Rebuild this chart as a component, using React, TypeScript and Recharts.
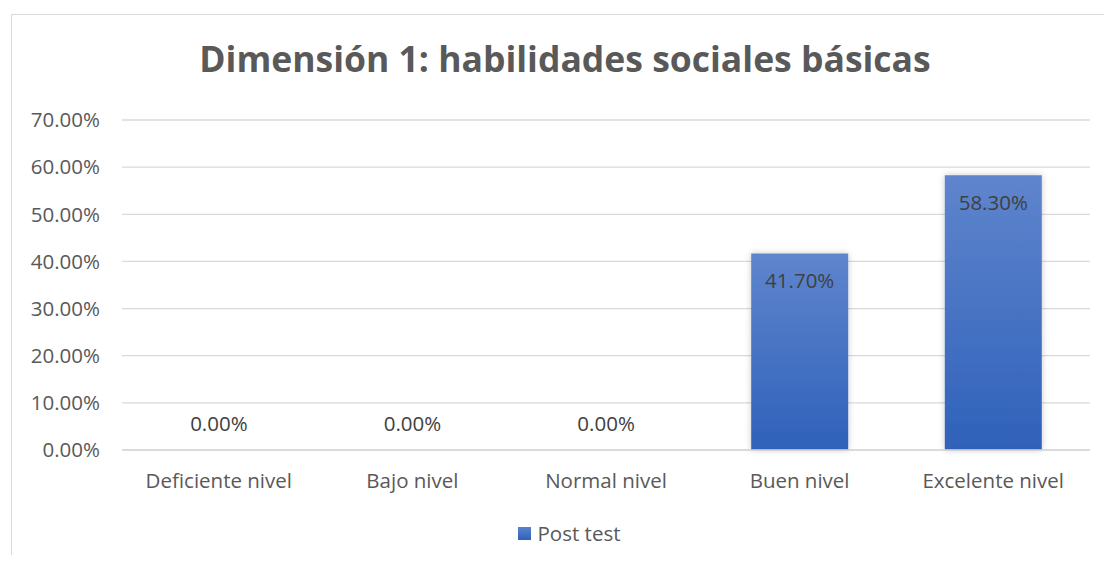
import React from 'react';
import { BarChart, Bar, XAxis, YAxis, CartesianGrid, Legend, LabelList, Cell } from 'recharts';

const categories = ['Deficiente nivel', 'Bajo nivel', 'Normal nivel', 'Buen nivel', 'Excelente nivel'];
const postTest = [0, 0, 0, 41.7, 58.3];
const yTicks = [0, 10, 20, 30, 40, 50, 60, 70];
const seriesName = 'Post test';

const data = categories.map((name, i) => ({ name, value: postTest[i] }));

const FONT = '"Open Sans", sans-serif';
const TEXT = '#595959';
const FS = 20.5;

const ValueLabel = (props: any) => {
  const { x, y, width, value } = props;
  const cx = x + width / 2;
  const ty = value === 0 ? y - 23 : y + 29;
  return (
    <text x={cx} y={ty} textAnchor="middle" dominantBaseline="middle" fill="#404040" fontSize={FS} fontFamily={FONT}>
      {Number(value).toFixed(2)}%
    </text>
  );
};

const LegendBox = () => (
  <div style={{ display: 'flex', justifyContent: 'center', alignItems: 'center', fontFamily: FONT, fontSize: FS, color: TEXT }}>
    <span style={{ width: 13, height: 13, background: 'linear-gradient(#5b82cb, #2f62ba)', marginRight: 7, display: 'inline-block' }} />
    {seriesName}
  </div>
);

export default function App() {
  return (
    <div style={{ position: 'relative', width: 1112, height: 563, margin: -8, background: '#fff', overflow: 'hidden' }}>
      <div style={{ position: 'absolute', left: 11, top: 14, width: 1110, height: 560, border: '1px solid #d9d9d9' }} />
      <div style={{ position: 'absolute', left: 0, top: 34, width: 1130, textAlign: 'center', fontFamily: FONT, fontWeight: 700, fontSize: 35.5, color: TEXT }}>
        Dimensión 1: habilidades sociales básicas
      </div>
      <div style={{ position: 'absolute', left: 0, top: 0 }}>
        <BarChart width={1112} height={563} data={data} margin={{ top: 120, right: 22, bottom: 83, left: 0 }} barCategoryGap="25%">
          <defs>
            <linearGradient id="barFill" x1="0" y1="0" x2="0" y2="1">
              <stop offset="0%" stopColor="#5f85cd" />
              <stop offset="100%" stopColor="#2f61ba" />
            </linearGradient>
            <filter id="glow" x="-20%" y="-20%" width="140%" height="140%">
              <feDropShadow dx="0" dy="0" stdDeviation="3" floodColor="#000" floodOpacity="0.22" />
            </filter>
          </defs>
          <CartesianGrid vertical={false} stroke="#d9d9d9" strokeWidth={1.3} />
          <XAxis
            dataKey="name"
            axisLine={{ stroke: '#d9d9d9', strokeWidth: 1.3 }}
            tickLine={false}
            tickSize={0}
            tickMargin={23}
            height={30}
            interval={0}
            tick={{ fill: TEXT, fontSize: FS, fontFamily: FONT }}
          />
          <YAxis
            domain={[0, 70]}
            ticks={yTicks}
            width={122}
            axisLine={false}
            tickLine={false}
            tickSize={0}
            tickMargin={22}
            tickFormatter={(v: number) => `${v.toFixed(2)}%`}
            tick={{ fill: TEXT, fontSize: FS, fontFamily: FONT }}
          />
          <Legend verticalAlign="middle" align="center" layout="horizontal" wrapperStyle={{ top: 519, left: 0, width: 1138 }} content={() => <LegendBox />} />
          <Bar dataKey="value" name={seriesName} minPointSize={1} isAnimationActive={false}>
            {data.map((d, i) => (
              <Cell key={i} fill={d.value === 0 ? 'transparent' : 'url(#barFill)'} filter={d.value === 0 ? undefined : 'url(#glow)'} />
            ))}
            <LabelList dataKey="value" content={<ValueLabel />} />
          </Bar>
        </BarChart>
      </div>
    </div>
  );
}
